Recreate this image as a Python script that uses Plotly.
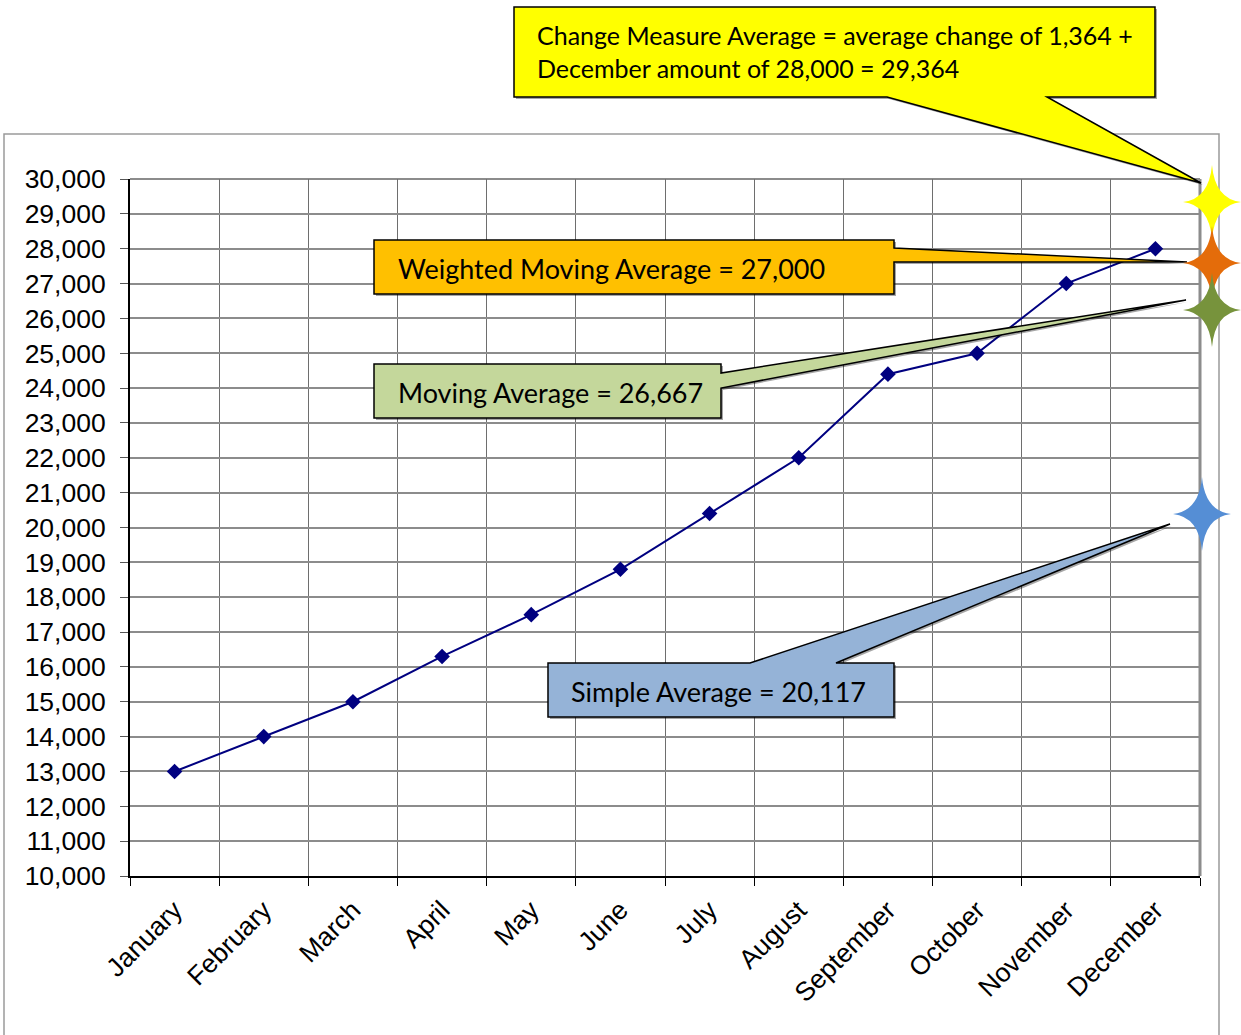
import plotly.graph_objects as go

months = ["January", "February", "March", "April", "May", "June", "July",
          "August", "September", "October", "November", "December"]
values = [13000, 14000, 15000, 16300, 17500, 18800, 20400, 22000, 24400,
          25000, 27000, 28000]
y_ticks = list(range(10000, 30001, 1000))
y_tick_text = [f"{v:,}" for v in y_ticks]

callout_texts = {
    "change": "Change Measure Average = average change of 1,364 +<br>December amount of 28,000 = 29,364",
    "weighted": "Weighted Moving Average = 27,000",
    "moving": "Moving Average = 26,667",
    "simple": "Simple Average = 20,117",
}

OFF = 0  # page body margin removed by post_script
W, H = 1241 - OFF, 1035 - OFF
L, R, T, B = 130 - OFF, 41, 179 - OFF, 159
PW, PH = W - L - R, H - T - B


def px(x):
    return (x - OFF - L) / PW


def py(y):
    return (H - B - (y - OFF)) / PH


def path(points):
    return "M " + " L ".join(f"{px(x):.5f},{py(y):.5f}" for x, y in points) + " Z"


def star(cx, cy, hx, hy, w):
    def p(x, y):
        return f"{px(x):.5f},{py(y):.5f}"
    return (f"M {p(cx, cy - hy)} Q {p(cx + w, cy - w)} {p(cx + hx, cy)} "
            f"Q {p(cx + w, cy + w)} {p(cx, cy + hy)} "
            f"Q {p(cx - w, cy + w)} {p(cx - hx, cy)} "
            f"Q {p(cx - w, cy - w)} {p(cx, cy - hy)} Z")


fig = go.Figure()
fig.add_trace(go.Scatter(
    x=months, y=values, mode="lines+markers",
    line=dict(color="#000080", width=2),
    marker=dict(symbol="diamond", size=12, color="#000080"),
    showlegend=False,
))

shapes = []
shapes.append(dict(type="rect", xref="paper", yref="paper", x0=px(4), y0=py(134),
                   x1=px(1219), y1=py(1045), line=dict(color="#9a9a9a", width=1.5),
                   layer="below"))
shapes.append(dict(type="line", xref="paper", yref="paper", x0=0, y0=1, x1=1, y1=1,
                   line=dict(color="#8c8c8c", width=2), layer="between"))
shapes.append(dict(type="line", xref="paper", yref="paper", x0=1, y0=0, x1=1, y1=1,
                   line=dict(color="#8c8c8c", width=3), layer="between"))

callouts = [
    ([(514, 7), (1155, 7), (1155, 97), (1047, 97), (1201, 183), (887, 97), (514, 97)], "#FFFF00"),
    ([(374, 240), (894, 240), (894, 248), (1187, 262), (894, 262), (894, 294), (374, 294)], "#FFC000"),
    ([(374, 364), (721, 364), (721, 373), (1186, 300), (721, 388), (721, 418), (374, 418)], "#C4D79B"),
    ([(548, 663), (750, 663), (1170, 524), (836, 663), (894, 663), (894, 717), (548, 717)], "#95B3D7"),
]
for pts, col in callouts:
    shadow = [(x + 2, y + 2) for x, y in pts]
    shapes.append(dict(type="path", xref="paper", yref="paper", path=path(shadow),
                       fillcolor="rgba(0,0,0,0.35)", line=dict(width=0), layer="above"))
    shapes.append(dict(type="path", xref="paper", yref="paper", path=path(pts),
                       fillcolor=col, line=dict(color="black", width=1.5), layer="above"))

stars = [
    (1212, 202, "#FFFF00"),
    (1212, 263, "#E46C0A"),
    (1212, 310, "#77933C"),
    (1202, 514, "#558ED5"),
]
for cx, cy, col in stars:
    shapes.append(dict(type="path", xref="paper", yref="paper",
                       path=star(cx, cy, 29, 37, 3), fillcolor=col,
                       line=dict(width=0), layer="above"))

box_font = "Lato, Liberation Sans, sans-serif"
annotations = [
    dict(text=callout_texts["change"], x=px(535), y=py(51), xanchor="left", yanchor="middle",
         align="left", font=dict(family=box_font, size=25, color="black")),
    dict(text=callout_texts["weighted"], x=px(396), y=py(268), xanchor="left", yanchor="middle",
         font=dict(family=box_font, size=27, color="black")),
    dict(text=callout_texts["moving"], x=px(396), y=py(392), xanchor="left", yanchor="middle",
         font=dict(family=box_font, size=27, color="black")),
    dict(text=callout_texts["simple"], x=px(569), y=py(691), xanchor="left", yanchor="middle",
         font=dict(family=box_font, size=27, color="black")),
]
for a in annotations:
    a.update(xref="paper", yref="paper", showarrow=False)

fig.update_layout(
    width=W, height=H,
    margin=dict(l=L, r=R, t=T, b=B, autoexpand=False),
    paper_bgcolor="white", plot_bgcolor="white",
    font=dict(family="Liberation Sans, Arial, sans-serif", color="black"),
    shapes=shapes, annotations=annotations,
    xaxis=dict(type="category", tickson="boundaries", showgrid=True,
               gridcolor="#6e6e6e", gridwidth=1, ticks="outside", ticklen=8,
               tickcolor="black", tickangle=-45, tickfont=dict(size=26.5),
               ticklabelstandoff=6,
               showline=True, linecolor="black", linewidth=2,
               range=[-0.5, 11.5], zeroline=False),
    yaxis=dict(range=[10000, 30000], tickvals=y_ticks, ticktext=y_tick_text,
               showgrid=True, gridcolor="#8c8c8c", gridwidth=1.5,
               ticks="outside", ticklen=8, tickcolor="#555", tickfont=dict(size=26.5),
               ticklabelstandoff=9,
               showline=True, linecolor="black", linewidth=2, zeroline=False),
)

fig.write_html("out.html", config={"displayModeBar": False},
               post_script="document.body.style.margin='0px';document.body.style.overflow='hidden';")
